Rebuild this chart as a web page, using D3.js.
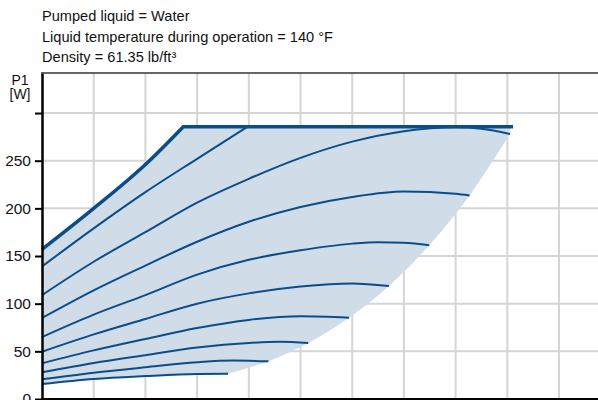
<!DOCTYPE html>
<html><head><meta charset="utf-8">
<script src="https://cdn.jsdelivr.net/npm/d3@7"></script>
<style>html,body{margin:0;padding:0;background:#fff;}svg{display:block;font-family:"Liberation Sans",Arial,sans-serif;}</style>
</head><body><svg id="c" width="598" height="400"></svg>
<script>
// ---------- data ----------
const headerLines = ["Pumped liquid = Water", "Liquid temperature during operation = 140 °F", "Density = 61.35 lb/ft³"];
const yLabelLines = ["P1", "[W]"];
const yTicks = [0, 50, 100, 150, 200, 250, 300];
const yTickLabels = ["0", "50", "100", "150", "200", "250", ""];
const xGrid = [1, 2, 3, 4, 5, 6, 7, 8, 9, 10];
const maxCurve = [[0,157],[1,200],[2,246],[2.73,285.5]];
const powerLimit = 285.5;
const powerLimitEnd = 9.11;
const curve1 = [[0,139],[1,179],[2,217],[3,252],[3.97,285.5]];
const curve2 = [[0,109],[1,144],[2,175],[3,206],[4,231],[5,253],[6,270],[7,281],[8,285],[8.5,283.5],[9.05,278]];
const curve3 = [[0,85],[1,114],[2,140],[3,165],[4,186],[5,201.5],[6,212],[7,217.7],[8,215.3],[8.27,213.5]];
const curve4 = [[0,65],[1,88.5],[2,109],[3,130.5],[4,146],[5,156],[6,163],[6.5,164.5],[7,163.8],[7.49,161.4]];
const curve5 = [[0,49.6],[1,67.8],[2,84],[3,100],[4,110.8],[5,118],[6,121.3],[6.71,118.5]];
const curve6 = [[0,37.4],[1,51],[2,63],[3,74.5],[4,83],[5,86.7],[5.94,85.2]];
const curve7 = [[0,28],[1,37.7],[2,46],[3,54],[4,58.8],[4.6,60],[5.15,58.7]];
const curve8 = [[0,20.6],[1,27.6],[2,33.3],[3,38.5],[3.7,40.3],[4.38,39.5]];
const curve9 = [[0,15.7],[1,21],[2,24],[3,26.2],[3.6,26.5]];

// ---------- setup ----------
const svg = d3.select("#c");
const x = d3.scaleLinear().domain([0, 10.75]).range([42, 597.8]);
const y = d3.scaleLinear().domain([0, 342]).range([399, 73]);
const lineColor = "#0b4d8a";
const fillColor = "#d0dce8";
const gridColor = "#d3d5d8";
const font = '"Liberation Sans",Arial,sans-serif';

const line = d3.line().x(d => x(d[0])).y(d => y(d[1])).curve(d3.curveMonotoneX);
const lineCR = d3.line().x(d => x(d[0])).y(d => y(d[1])).curve(d3.curveCatmullRom.alpha(0.5));

// grid
svg.append("g").selectAll("line").data(xGrid).join("line")
  .attr("x1", d => x(d)).attr("x2", d => x(d)).attr("y1", y(342)).attr("y2", y(0))
  .attr("stroke", gridColor).attr("stroke-width", 2);
svg.append("g").selectAll("line").data(yTicks.filter(v => v > 0)).join("line")
  .attr("x1", x(0)).attr("x2", 598).attr("y1", d => y(d)).attr("y2", d => y(d))
  .attr("stroke", gridColor).attr("stroke-width", 2);

// fill area
const thinCurves = [curve1, curve2, curve3, curve4, curve5, curve6, curve7, curve8, curve9];
const ends = thinCurves.slice(1).map(c => c[c.length - 1]);
const lastEnd = ends[0];
let dFill = line(maxCurve);
dFill += "L" + x(lastEnd[0]) + "," + y(powerLimit);
dFill += lineCR(ends).replace(/^M/, "L");
dFill += line(curve9.slice().reverse()).replace(/^M/, "L");
dFill += "Z";
svg.append("path").attr("d", dFill).attr("fill", fillColor).attr("stroke", "none");

// curves
svg.append("g").selectAll("path").data(thinCurves).join("path")
  .attr("d", d => line(d)).attr("fill", "none").attr("stroke", lineColor).attr("stroke-width", 2);
svg.append("path").attr("d", line(maxCurve) + "L" + x(powerLimitEnd) + "," + y(powerLimit))
  .attr("fill", "none").attr("stroke", lineColor).attr("stroke-width", 3.5).attr("stroke-linejoin", "miter");

// axes
const yAxis = d3.axisLeft(y).tickValues(yTicks).tickFormat((d, i) => yTickLabels[i]).tickSize(7).tickSizeOuter(0).tickPadding(4);
const ga = svg.append("g").attr("transform", `translate(${x(0)},0)`).call(yAxis);
ga.select(".domain").attr("stroke", "#000").attr("stroke-width", 2.5);
ga.selectAll(".tick line").attr("stroke", "#000").attr("stroke-width", 2);
ga.selectAll(".tick text").attr("font-size", 15.5).attr("fill", "#111").attr("font-family", font);
svg.append("line").attr("x1", x(0) - 1).attr("x2", 598).attr("y1", y(0)).attr("y2", y(0)).attr("stroke", "#000").attr("stroke-width", 2);
svg.append("line").attr("x1", x(0) - 1).attr("x2", 598).attr("y1", y(342)).attr("y2", y(342)).attr("stroke", "#333").attr("stroke-width", 1.5);

// texts
svg.append("g").selectAll("text").data(headerLines).join("text")
  .attr("x", 42).attr("y", (d, i) => 21 + i * 20.5).attr("font-size", 14.6).attr("fill", "#111").text(d => d);
svg.append("g").selectAll("text").data(yLabelLines).join("text")
  .attr("x", 20).attr("y", (d, i) => 85 + i * 14).attr("text-anchor", "middle").attr("font-size", 14).attr("fill", "#111").text(d => d);
</script></body></html>
